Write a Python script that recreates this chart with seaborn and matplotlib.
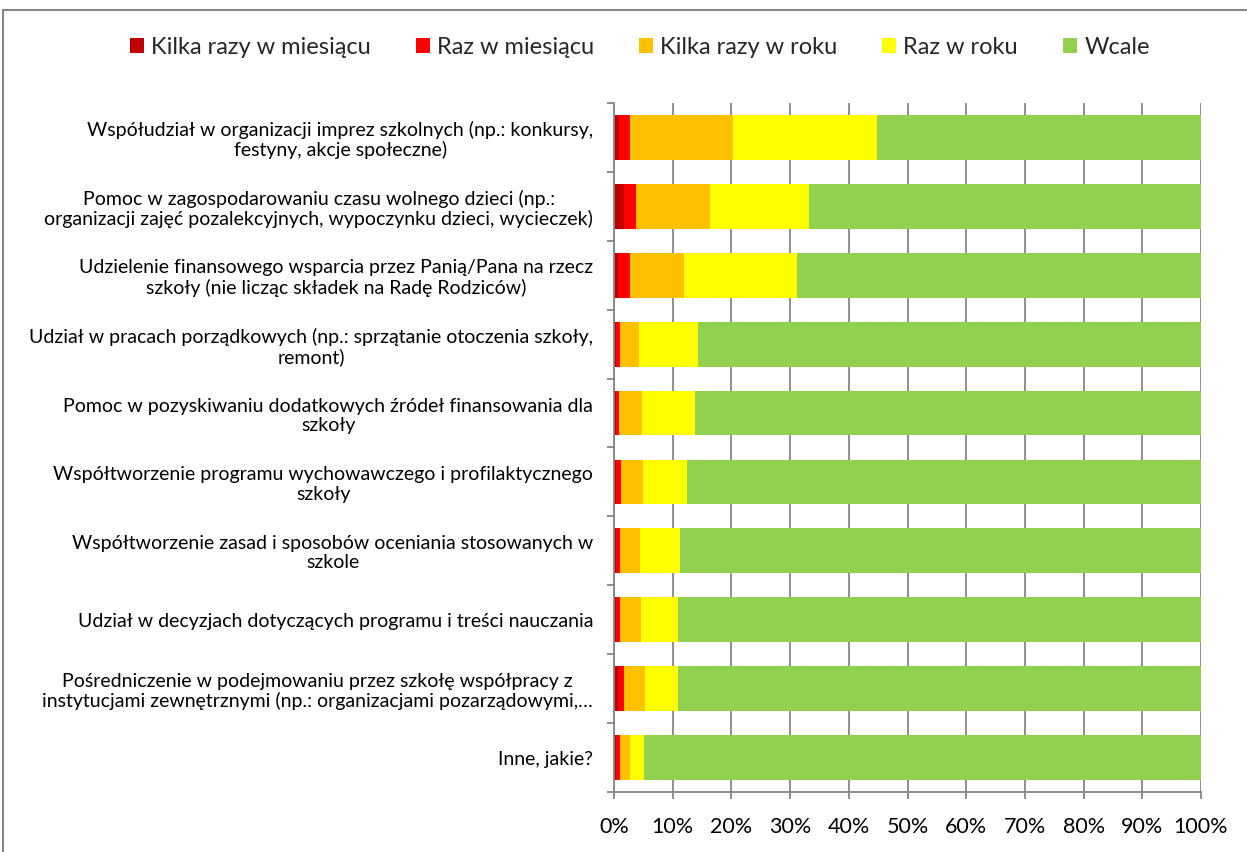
import numpy as np
import pandas as pd
import matplotlib
matplotlib.use("Agg")
import matplotlib.pyplot as plt
from matplotlib.lines import Line2D
from matplotlib.patches import Patch
from matplotlib.ticker import FixedLocator, PercentFormatter
import seaborn as sns

# Dane (% odpowiedzi)
kategorie = [
    "Współudział w organizacji imprez szkolnych (np.: konkursy,\nfestyny, akcje społeczne)",
    "Pomoc w zagospodarowaniu czasu wolnego dzieci (np.:\norganizacji zajęć pozalekcyjnych, wypoczynku dzieci, wycieczek)",
    "Udzielenie finansowego wsparcia przez Panią/Pana na rzecz\nszkoły (nie licząc składek na Radę Rodziców)",
    "Udział w pracach porządkowych (np.: sprzątanie otoczenia szkoły,\nremont)",
    "Pomoc w pozyskiwaniu dodatkowych źródeł finansowania dla\nszkoły",
    "Współtworzenie programu wychowawczego i profilaktycznego\nszkoły",
    "Współtworzenie zasad i sposobów oceniania stosowanych w\nszkole",
    "Udział w decyzjach dotyczących programu i treści nauczania",
    "Pośredniczenie w podejmowaniu przez szkołę współpracy z\ninstytucjami zewnętrznymi (np.: organizacjami pozarządowymi,…",
    "Inne, jakie?",
]
serie = ["Kilka razy w miesiącu", "Raz w miesiącu", "Kilka razy w roku", "Raz w roku", "Wcale"]

kilka_miesiac = [0.9, 1.7, 0.7, 0.3, 0.4, 0.3, 0.3, 0.4, 0.7, 0.3]
raz_miesiac = [1.8, 2.0, 2.0, 0.7, 0.5, 0.9, 0.8, 0.6, 1.0, 0.7]
kilka_rok = [17.6, 12.7, 9.2, 3.2, 3.8, 3.7, 3.3, 3.6, 3.6, 1.7]
raz_rok = [24.5, 16.9, 19.2, 10.1, 9.1, 7.5, 6.8, 6.3, 5.6, 2.4]
wcale = [55.2, 66.7, 68.9, 85.7, 86.2, 87.6, 88.8, 89.1, 89.1, 94.9]

kolory = ["#C00000", "#FF0000", "#FFC000", "#FFFF00", "#92D050"]

df = pd.DataFrame({"kategoria": kategorie,
                   serie[0]: kilka_miesiac, serie[1]: raz_miesiac,
                   serie[2]: kilka_rok, serie[3]: raz_rok, serie[4]: wcale})
# skumulowane wartości do nakładania słupków
skum = df[serie].cumsum(axis=1)
skum["kategoria"] = df["kategoria"]

sns.set_theme(style="white")
plt.rcParams["font.family"] = ["Lato", "DejaVu Sans"]

fig = plt.figure(figsize=(12.47, 8.52), dpi=100)
ax = fig.add_axes([614 / 1247, 1 - 792 / 852, (1201 - 614) / 1247, (792 - 103) / 852])

szary = "#868686"
ax.set_axisbelow(True)
ax.xaxis.grid(True, color=szary, linewidth=1.3)

# od najdłuższego do najkrótszego, żeby uzyskać efekt stosu
for s, c in zip(reversed(serie), reversed(kolory)):
    sns.barplot(data=skum, x=s, y="kategoria", color=c, width=0.65,
                saturation=1, ax=ax, orient="h", linewidth=0)

ax.set_xlim(0, 100)
ax.set_ylim(len(kategorie) - 0.5, -0.5)
ax.set_xticks(np.arange(0, 101, 10))
ax.xaxis.set_major_formatter(PercentFormatter(decimals=0))
ax.set_xlabel("")
ax.set_ylabel("")

ax.set_yticks(range(len(kategorie)))
ax.set_yticklabels(kategorie, fontsize=14, multialignment="center", linespacing=1.15)
ax.yaxis.set_minor_locator(FixedLocator(np.arange(-0.5, len(kategorie), 1)))
ax.tick_params(axis="y", which="major", length=0, pad=15, colors="black")
ax.tick_params(axis="y", which="minor", left=True, length=5, width=1.3, color=szary)
ax.tick_params(axis="x", which="major", bottom=True, length=5, width=1.3, color=szary,
               labelsize=15.5, pad=13, labelcolor="black")

for k in ["top", "right"]:
    ax.spines[k].set_visible(False)
for k in ["left", "bottom"]:
    ax.spines[k].set_color(szary)
    ax.spines[k].set_linewidth(1.3)

uchwyty = [Patch(facecolor=c, edgecolor="none") for c in kolory]
fig.legend(uchwyty, serie, loc="center", bbox_to_anchor=(0.513, 1 - 47 / 852), ncol=5,
           frameon=False, fontsize=17, handlelength=0.6, handleheight=0.6,
           handletextpad=0.3, columnspacing=1.9)

# ramka obszaru wykresu (widoczna tylko u góry i z lewej)
fig.add_artist(Line2D([3 / 1247, 1], [1 - 10 / 852, 1 - 10 / 852], transform=fig.transFigure,
                      color=szary, linewidth=1.5))
fig.add_artist(Line2D([3 / 1247, 3 / 1247], [0, 1 - 10 / 852], transform=fig.transFigure,
                      color=szary, linewidth=1.5))

fig.savefig("out.png", dpi=100)
